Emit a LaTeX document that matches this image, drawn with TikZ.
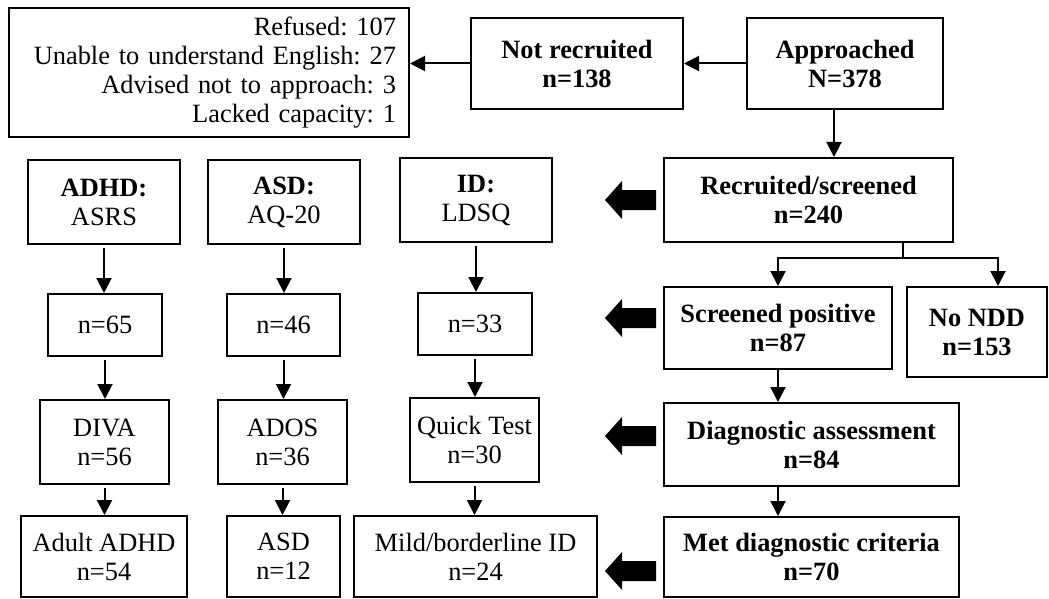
\documentclass[tikz,border=0pt]{standalone}
\usepackage{fontspec}
\setmainfont{Liberation Serif}
\usetikzlibrary{arrows.meta}
\frenchspacing

\tikzset{
  box/.style={draw, line width=1pt, align=center, inner sep=0pt},
  bbox/.style={box, font=\fontsize{13.2}{14.5}\selectfont\bfseries},
}

\begin{document}
\begin{tikzpicture}[x=0.5pt, y=-0.5pt, line width=1pt,
    >={Triangle[length=7.5pt,width=7.5pt]},
    font=\fontsize{13.2}{14.5}\selectfont]
  \useasboundingbox (0,0) rectangle (1049,599);
  % main flow on the right
  \node [box, minimum width=200pt, minimum height=64.5pt, text width=187pt,
         align=right, inner xsep=6.5pt] (refusal) at (209,72.5)
        {Refused: 107\\Unable to understand English: 27\\Advised not to approach: 3\\Lacked capacity: 1};
  \node [bbox, minimum width=106pt, minimum height=45.5pt] (notrec) at (577,63.5) {Not recruited\\n=138};
  \node [bbox, minimum width=98pt, minimum height=45.5pt] (appr) at (845,63.5) {Approached\\N=378};
  \node [bbox, minimum width=144.5pt, minimum height=42pt] (recr) at (808.5,200) {Recruited/screened\\n=240};
  \node [bbox, minimum width=114pt, minimum height=41pt] (scrpos) at (778,328) {Screened positive\\n=87};
  \node [bbox, minimum width=70pt, minimum height=45pt] (nondd) at (977,332) {No NDD\\n=153};
  \node [bbox, minimum width=147.5pt, minimum height=41.5pt] (diag) at (811.5,444.5) {Diagnostic assessment\\n=84};
  \node [bbox, minimum width=147.5pt, minimum height=40pt] (met) at (811.5,557) {Met diagnostic criteria\\n=70};
  % the three columns
  \node [box, minimum width=76pt, minimum height=42pt] (adhd) at (104,202) {\textbf{ADHD:}\\ASRS};
  \node [box, minimum width=76pt, minimum height=42pt] (asd) at (284,202) {\textbf{ASD:}\\AQ-20};
  \node [box, minimum width=76pt, minimum height=42pt] (id) at (476,200) {\textbf{ID:}\\LDSQ};
  \node [box, minimum width=57pt, minimum height=31pt] (n65) at (105,325) {n=65};
  \node [box, minimum width=56.5pt, minimum height=31pt] (n46) at (283.5,325) {n=46};
  \node [box, minimum width=57pt, minimum height=31pt] (n33) at (475,324) {n=33};
  \node [box, minimum width=64.5pt, minimum height=42pt] (diva) at (104.5,442) {DIVA\\n=56};
  \node [box, minimum width=64.5pt, minimum height=42pt] (ados) at (282.5,442) {ADOS\\n=36};
  \node [box, minimum width=64.5pt, minimum height=42pt] (quick) at (474.5,440) {Quick Test\\n=30};
  \node [box, minimum width=83pt, minimum height=40.5pt] (adult) at (104,556.5) {Adult ADHD\\n=54};
  \node [box, minimum width=56.5pt, minimum height=40.5pt] (asdres) at (283.5,556.5) {ASD\\n=12};
  \node [box, minimum width=121.5pt, minimum height=40.5pt] (mild) at (475.5,556.5) {Mild/borderline ID\\n=24};

  % connectors
  \draw [->] (appr.west) -- (notrec.east);
  \draw [->] (notrec.west) -- (notrec.west -| refusal.east);
  \draw [->] ([xshift=-5.5pt]appr.south) -- ([xshift=-5.5pt]appr.south |- recr.north);
  \coordinate (split) at (903,258);
  \draw ([xshift=47.25pt]recr.south) -- (split);
  \draw [->] (split) -| (scrpos.north);
  \draw [->] (split) -| ([xshift=10.5pt]nondd.north);
  \draw [->] (scrpos.south) -- (scrpos.south |- diag.north);
  \draw [->] (scrpos.south |- diag.south) -- (scrpos.south |- met.north);
  \foreach \a/\b in {adhd/n65, n65/diva, diva/adult, asd/n46, n46/ados, ados/asdres,
                     id/n33, n33/quick, quick/mild}
    \draw [->, shorten <=1.5pt] (\a.south) -- (\a.south |- \b.north);

  % block arrows
  \foreach \y in {200,318,436,571}
    \fill (656,\y) ++(0,-10) -- ++(-34,0) -- ++(0,-9) -- ++(-17,19)
          -- ++(17,19) -- ++(0,-9) -- ++(34,0) -- cycle;
\end{tikzpicture}
\end{document}
